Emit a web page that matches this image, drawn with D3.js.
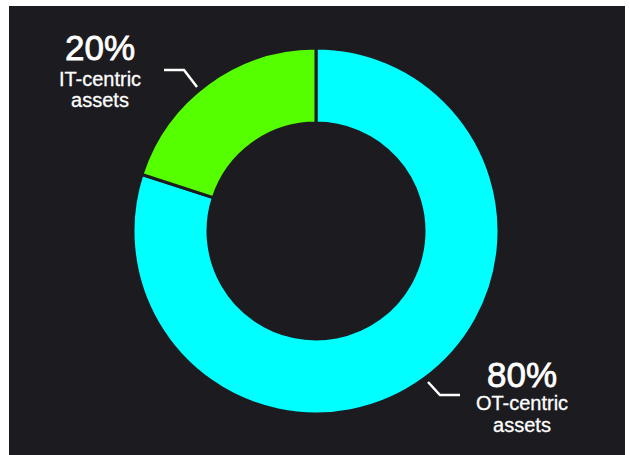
<!DOCTYPE html>
<html>
<head>
<meta charset="utf-8">
<script src="https://cdn.jsdelivr.net/npm/d3@7"></script>
<style>
  body { margin: 0; background: #fff; }
  text { font-family: "Liberation Sans", Arial, sans-serif; fill: #fff; }
</style>
</head>
<body>
<div id="chart"></div>
<script>
const labels = ["OT-centric assets", "IT-centric assets"];
const values = [80, 20];
const colors = ["#00ffff", "#55ff00"];

const width = 630, height = 455;
const cx = 316, cy = 231;
const outerR = 183, innerR = 108;

const svg = d3.select("#chart").append("svg")
  .attr("width", width)
  .attr("height", height);

svg.append("rect")
  .attr("x", 9).attr("y", 6)
  .attr("width", 616).attr("height", 449)
  .attr("fill", "#1c1c20");

const pie = d3.pie().sort(null)(values);
const arc = d3.arc().innerRadius(innerR).outerRadius(outerR);

const g = svg.append("g").attr("transform", `translate(${cx},${cy})`);

g.selectAll("path")
  .data(pie)
  .enter()
  .append("path")
  .attr("d", arc)
  .attr("fill", (d, i) => colors[i])
  .attr("stroke", "#1c1c20")
  .attr("stroke-width", 3);

// leader lines
const leaders = [
  [[428, 382], [440, 395], [460, 395]],
  [[197, 87], [184, 70], [164, 70]]
];
svg.selectAll("polyline")
  .data(leaders)
  .enter()
  .append("polyline")
  .attr("points", d => d.map(p => p.join(",")).join(" "))
  .attr("fill", "none")
  .attr("stroke", "#fff")
  .attr("stroke-width", 2.5);

// labels: anchor + line offsets
const labelPos = [[522, 387], [100, 60]];
const lineOffsets = [[23, 45], [26, 47]];
const lab = svg.selectAll("g.lab")
  .data(pie)
  .enter()
  .append("g")
  .attr("class", "lab")
  .attr("text-anchor", "middle")
  .attr("transform", (d, i) => `translate(${labelPos[i]})`);

lab.append("text")
  .attr("font-size", 35)
  .attr("stroke", "#fff")
  .attr("stroke-width", 0.8)
  .text(d => d.data + "%");

lab.each(function(d, i) {
  const words = labels[i].split(" ");
  words.forEach((w, j) => {
    d3.select(this).append("text")
      .attr("y", lineOffsets[i][j])
      .attr("font-size", 20)
      .attr("stroke", "#fff")
      .attr("stroke-width", 0.3)
      .text(w);
  });
});
</script>
</body>
</html>
